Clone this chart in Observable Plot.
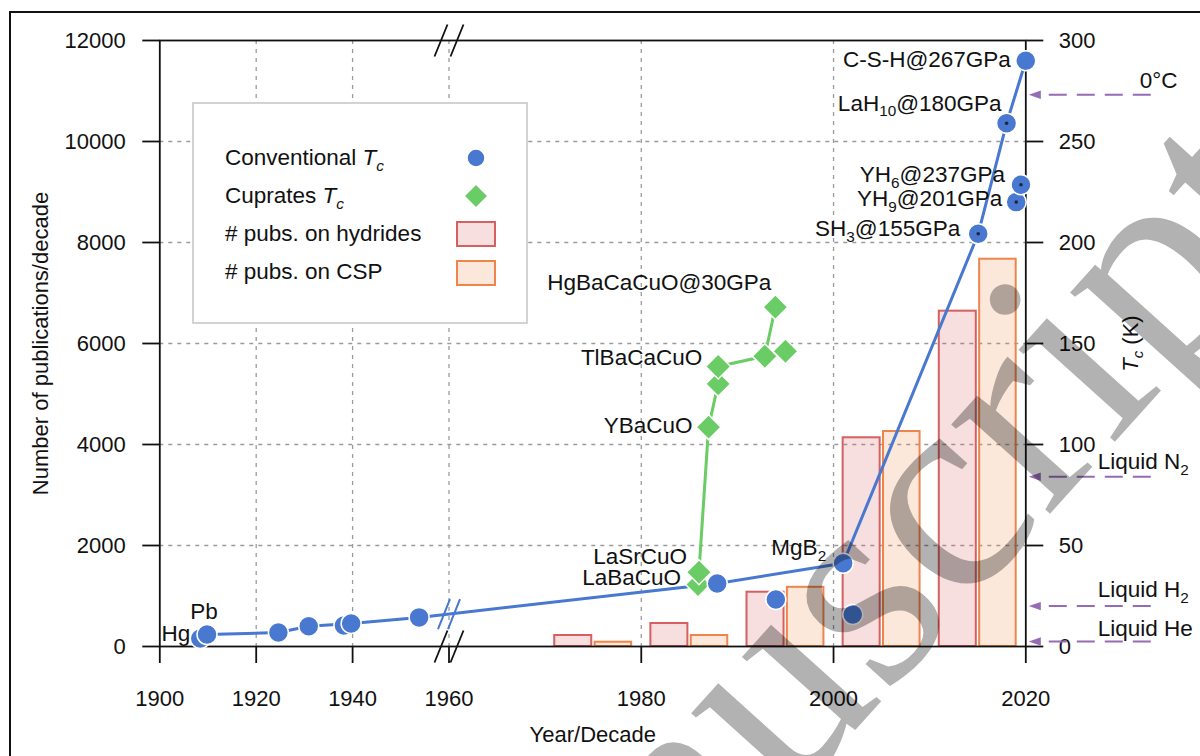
<!DOCTYPE html>
<html><head><meta charset="utf-8">
<script src="https://cdn.jsdelivr.net/npm/d3@7"></script>
<script src="https://cdn.jsdelivr.net/npm/@observablehq/plot@0.6"></script>
<style>
body{margin:0;background:#fff;}
#wrap{position:relative;width:1200px;height:756px;overflow:hidden;font-family:"Liberation Sans",Arial,sans-serif;background:#fff;}
#chart{position:absolute;left:0;top:0;}
#border{position:absolute;left:9px;top:11px;width:1400px;height:1000px;border-left:2px solid #111;border-top:2px solid #111;}
.ov{position:absolute;left:0;top:0;pointer-events:none;}
</style></head>
<body><div id="wrap"><div id="chart"></div><div id="border"></div>
<svg id="legend" class="ov" width="1200" height="756"></svg>
<svg id="wm" class="ov" width="1200" height="756"></svg>
</div>
<script>
// ---------------- data ----------------
// Conventional superconductors: year, Tc (K)
const convNames = ["Hg","Pb","","","","","","","","MgB{2}","","SH{3}@155GPa","YH{9}@201GPa","YH{6}@237GPa","LaH{10}@180GPa","C-S-H@267GPa"];
const convYears = [1908.4,1909.8,1924.6,1930.9,1938.2,1939.7,1953.8,1987.9,1994.0,2001.0,2002.0,2015.05,2019.0,2019.5,2018.0,2020];
const convTc    = [4.0,5.9,6.9,10.0,10.4,11.4,14.4,31.2,23.3,41.2,15.8,204.3,220,228.6,259,290];
const convHighP = [0,0,0,0,0,0,0,0,0,0,0,1,1,1,1,0];
const convOnLine= [1,1,1,1,0,1,1,1,0,1,0,1,0,0,1,1];
// Cuprates
const cupNames  = ["LaBaCuO","LaSrCuO","YBaCuO","","TlBaCaCuO","","","HgBaCaCuO@30GPa"];
const cupYears  = [1985.9,1986,1987,1988,1988,1992.85,1995,1993.95];
const cupTc     = [30.7,36.8,108.6,130,138.6,143.7,146.2,168];
const cupOnLine = [1,1,1,1,1,1,0,1];
// Publications per decade
const decades   = [1970,1980,1990,2000,2010];
const pubsHydr  = [218,455,1075,4133,6640];
const pubsCSP   = [85,218,1172,4257,7669];
// Reference temperatures (K)
const tempNames = ["0°C","Liquid N{2}","Liquid H{2}","Liquid He"];
const tempK     = [273.15,84,20,2.5];
// Ticks
const xTicks    = [1900,1920,1940,1960,1980,2000,2020];
const pubTicks  = [0,2000,4000,6000,8000,10000,12000];
const tcTicks   = [0,50,100,150,200,250,300];
const xBreak    = 1960;

// ---------------- styling ----------------
const BLUE="#4878d0", GREEN="#6acc64", RED="#d65f5f", ORANGE="#ee854a", PURPLE="#956cb4";
const K2PUB = 12000/300; // right axis (K) -> left axis (pubs)
const X_DOMAIN=[1900,1960,2020], X_RANGE=[159.3,448.5,1025.3];
const FONT = 22, LFONT = 22.5;

const conv = convYears.map((x,i)=>({x, tc:convTc[i], name:convNames[i], hp:convHighP[i], line:convOnLine[i]}));
const cup  = cupYears.map((x,i)=>({x, tc:cupTc[i], name:cupNames[i], line:cupOnLine[i]}));
const bars = decades.map((d,i)=>({d, hydr:pubsHydr[i], csp:pubsCSP[i]}));
const temps= tempNames.map((n,i)=>({name:n, k:tempK[i]}));

// label placements (dx, dy, anchor)
const place = {
  "Hg":[-10,-5,"end"], "Pb":[-3,-23,"middle"], "MgB{2}":[-17,-15,"end"],
  "SH{3}@155GPa":[-18,-5,"end"], "YH{9}@201GPa":[-14,-3,"end"], "YH{6}@237GPa":[-16,-10,"end"],
  "LaH{10}@180GPa":[-5,-20,"end"], "C-S-H@267GPa":[-15,-1,"end"],
  "LaBaCuO":[-17,-7,"end"], "LaSrCuO":[-12,-15,"end"], "YBaCuO":[-16,-1,"end"],
  "TlBaCaCuO":[-16,-9,"end"], "HgBaCaCuO@30GPa":[-4,-24,"end"]
};
const tempPlace = {"0°C":[114,-14], "Liquid N{2}":[72,-15], "Liquid H{2}":[72,-16], "Liquid He":[72,-13]};

// break position on the conventional line (pixel-space interpolation)
const xs = d3.scaleLinear(X_DOMAIN, X_RANGE);
const lineConv = conv.filter(d=>d.line);
let brk = null;
for (let i=1;i<lineConv.length;i++){const a=lineConv[i-1],b=lineConv[i]; if(a.x<xBreak&&b.x>=xBreak){const t=(xs(xBreak)-xs(a.x))/(xs(b.x)-xs(a.x)); brk={x:xBreak, tc:a.tc+t*(b.tc-a.tc)};}}

const breakSym = (dx, h, w) => ({draw(ctx){ for (const o of [-dx,dx]){ctx.moveTo(o-w,h);ctx.lineTo(o+w,-h);} }});
const arrowHead = {draw(ctx){ctx.moveTo(-6,0);ctx.lineTo(6,-4.2);ctx.lineTo(6,4.2);ctx.closePath();}};
const diamond = {draw(ctx){const r=12.5;ctx.moveTo(0,-r);ctx.lineTo(r,0);ctx.lineTo(0,r);ctx.lineTo(-r,0);ctx.closePath();}};

const labelMarks = [...conv, ...cup].filter(d=>d.name).map(d=>{
  const [dx,dy,anchor]=place[d.name];
  return Plot.text([d],{x:"x", y:d=>d.tc*K2PUB, text:"name", dx, dy, textAnchor:anchor, fontSize:LFONT, fill:"#111"});
});
const tempLabelMarks = temps.map(d=>{
  const [dx,dy]=tempPlace[d.name];
  return Plot.text([d],{x:()=>2020, y:d=>d.k*K2PUB, text:"name", dx, dy, textAnchor:"start", fontSize:LFONT, fill:"#111"});
});

const plot = Plot.plot({
  width:1200, height:756,
  marginLeft:X_RANGE[0], marginRight:1200-X_RANGE[2], marginTop:40, marginBottom:110,
  style:{fontFamily:'"Liberation Sans", Arial, sans-serif', fontSize:FONT+"px", color:"#111", background:"transparent", overflow:"visible"},
  x:{type:"linear", domain:X_DOMAIN, range:X_RANGE},
  y:{type:"linear", domain:[0,12000], range:[646,40]},
  marks:[
    Plot.gridX(xTicks.filter(t=>t>1900&&t<2020), {stroke:"#9a9a9a", strokeOpacity:1, strokeWidth:1.3, strokeDasharray:"4,5"}),
    Plot.gridY(pubTicks.filter(t=>t>0&&t<12000), {stroke:"#9a9a9a", strokeOpacity:1, strokeWidth:1.3, strokeDasharray:"4,5"}),
    Plot.rectY(bars,{x1:d=>d.d+1, x2:d=>d.d+4.85, y:"hydr", fill:RED, fillOpacity:0.2, stroke:RED, strokeWidth:2}),
    Plot.rectY(bars,{x1:d=>d.d+5.2, x2:d=>d.d+9, y:"csp", fill:ORANGE, fillOpacity:0.2, stroke:ORANGE, strokeWidth:2}),
    Plot.frame({stroke:"#111", strokeWidth:1.8}),
    Plot.axisX(xTicks,{tickSize:17, tickPadding:27, fontSize:FONT, strokeWidth:1.8, tickFormat:d=>String(d), label:null}),
    Plot.axisY(pubTicks,{anchor:"left", tickSize:17, tickPadding:17, fontSize:FONT, strokeWidth:1.8, tickFormat:d=>String(d), label:null}),
    Plot.axisY(tcTicks.map(t=>t*K2PUB),{anchor:"right", tickSize:17, tickPadding:16, fontSize:FONT, strokeWidth:1.8, tickFormat:d=>String(d/K2PUB), label:null}),
    Plot.dot([{x:xBreak,y:0},{x:xBreak,y:12000}],{x:"x", y:"y", symbol:breakSym(8,16,6.5), r:10, fill:"none", stroke:"#111", strokeWidth:1.8}),
    // reference temperature arrows
    Plot.link(temps,{x1:()=>2033, x2:()=>2021.5, y1:d=>d.k*K2PUB, y2:d=>d.k*K2PUB, stroke:PURPLE, strokeWidth:2, strokeDasharray:"18,10"}),
    Plot.dot(temps,{x:()=>2020, y:d=>d.k*K2PUB, dx:9, symbol:arrowHead, r:6, fill:PURPLE, stroke:"none"}),
    // lines
    Plot.line(cup.filter(d=>d.line),{x:"x", y:d=>d.tc*K2PUB, stroke:GREEN, strokeWidth:3}),
    Plot.line(lineConv,{x:"x", y:d=>d.tc*K2PUB, stroke:BLUE, strokeWidth:3}),
    Plot.dot(brk?[brk]:[],{x:"x", y:d=>d.tc*K2PUB, symbol:breakSym(5,15,6), r:10, fill:"none", stroke:BLUE, strokeWidth:2}),
    // points
    Plot.dot(cup,{x:"x", y:d=>d.tc*K2PUB, symbol:diamond, r:12, fill:GREEN, stroke:"white", strokeWidth:1.5}),
    Plot.dot(conv,{x:"x", y:d=>d.tc*K2PUB, r:10, fill:BLUE, stroke:"white", strokeWidth:1.5}),
    Plot.dot(conv.filter(d=>d.hp),{x:"x", y:d=>d.tc*K2PUB, r:1.8, fill:"#1c2740", stroke:"none"}),
    ...labelMarks,
    ...tempLabelMarks,
    // axis titles
    Plot.text(["Number of publications/decade"],{frameAnchor:"left", textAnchor:"middle", lineAnchor:"middle", rotate:-90, dx:-119, fontSize:FONT, fill:"#111"}),
    Plot.text(["Year/Decade"],{frameAnchor:"bottom", textAnchor:"middle", lineAnchor:"middle", dy:88, fontSize:FONT, fill:"#111"}),
    Plot.text(["[*T*][c] (K)"],{frameAnchor:"right", textAnchor:"middle", lineAnchor:"middle", rotate:-90, dx:105, fontSize:FONT, fill:"#111"})
  ]
});
document.getElementById("chart").appendChild(plot);

// rich text: {x} subscript, [*x*] italic, [x] italic subscript
const NS="http://www.w3.org/2000/svg";
function richify(el, fs){
  const s=el.textContent;
  if(!/[{\[]/.test(s)) return;
  el.textContent="";
  let shifted=false;
  const parts=s.split(/(\{[^}]*\}|\[\*[^\]]*\*\]|\[[^\]]*\])/).filter(Boolean);
  for(const p of parts){
    const ts=document.createElementNS(NS,"tspan");
    let txt=p, sub=false, ital=false;
    if(p[0]==="{"){txt=p.slice(1,-1);sub=true;}
    else if(p.startsWith("[*")){txt=p.slice(2,-2);ital=true;}
    else if(p[0]==="["){txt=p.slice(1,-1);sub=true;ital=true;}
    ts.textContent=txt;
    if(ital) ts.setAttribute("font-style","italic");
    if(sub){ts.setAttribute("font-size",(fs*0.68).toFixed(1)); if(!shifted){ts.setAttribute("dy",(fs*0.25).toFixed(1)); shifted=true;}}
    else if(shifted){ts.setAttribute("dy",(-fs*0.25).toFixed(1)); shifted=false;}
    el.appendChild(ts);
  }
}
plot.querySelectorAll("text").forEach(el=>{
  const fs=parseFloat(getComputedStyle(el).fontSize)||FONT;
  richify(el, fs);
});

// legend (inside plot area, top-left)
const lg=d3.select("#legend");
lg.append("rect").attr("x",193).attr("y",103).attr("width",334).attr("height",220).attr("fill","white").attr("stroke","#c8c8c8").attr("stroke-width",1.6);
const rows=[["Conventional [*T*][c]",157],["Cuprates [*T*][c]",195],["# pubs. on hydrides",233],["# pubs. on CSP",271]];
rows.forEach(([t,y])=>{
  const el=lg.append("text").attr("x",225).attr("y",y+8).attr("font-size",LFONT).attr("fill","#111").attr("font-family",'"Liberation Sans", Arial, sans-serif').text(t).node();
  richify(el, LFONT);
});
lg.append("circle").attr("cx",476).attr("cy",158).attr("r",9).attr("fill",BLUE).attr("stroke","white").attr("stroke-width",1.5);
lg.append("path").attr("d","M476,184L488,196L476,208L464,196Z").attr("fill",GREEN).attr("stroke","white").attr("stroke-width",1.5);
lg.append("rect").attr("x",457).attr("y",222).attr("width",38).attr("height",24).attr("fill",RED).attr("fill-opacity",0.2).attr("stroke",RED).attr("stroke-width",2);
lg.append("rect").attr("x",457).attr("y",261).attr("width",38).attr("height",24).attr("fill",ORANGE).attr("fill-opacity",0.2).attr("stroke",ORANGE).attr("stroke-width",2);

// watermark
const WF=290;
d3.select("#wm").append("g").attr("transform","translate(1002,294) rotate(-48)")
  .append("text").attr("x",-3.638*WF).attr("y",0.63*WF).attr("font-family",'"Liberation Serif", "Times New Roman", serif')
  .attr("font-size",WF).attr("fill","#000").attr("fill-opacity",0.3).text("Manuscript");
</script>
</body></html>
